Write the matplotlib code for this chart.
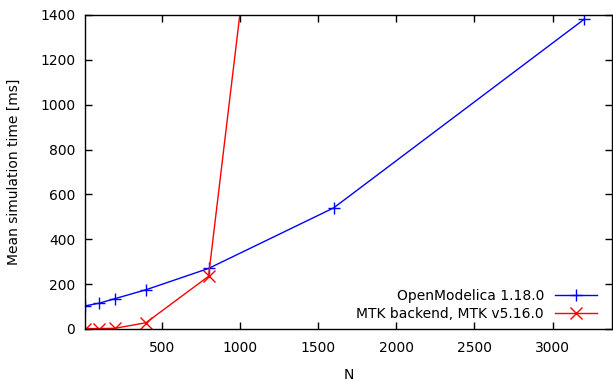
import matplotlib
matplotlib.use("Agg")
import matplotlib.pyplot as plt

N = [10, 100, 200, 400, 800, 1600, 3200]
openmodelica = [103, 115, 135, 175, 270, 540, 1380]
mtk = [2, 2, 3, 28, 235, 4900, None]

plt.rcParams['font.family'] = ['DejaVu Sans']
fig = plt.figure(figsize=(6.13, 3.81), dpi=100)
ax = fig.add_axes([85/613, 1-329/381, (612-85)/613, (329-15)/381])

ax.plot(N, openmodelica, color='#0000ff', marker='+', markersize=9, linewidth=1,
        markeredgewidth=1, label='OpenModelica 1.18.0')
Nm = [n for n, v in zip(N, mtk) if v is not None]
vm = [v for v in mtk if v is not None]
ax.plot(Nm, vm, color='#ff0000', marker='x', markersize=9, linewidth=1,
        markeredgewidth=1, label='MTK backend, MTK v5.16.0')

ax.set_xlim(10, 3380)
ax.set_ylim(0, 1400)
ax.set_xticks([500, 1000, 1500, 2000, 2500, 3000])
ax.set_yticks(range(0, 1401, 200))
ax.tick_params(direction='in', top=True, right=True, labelsize=10, length=5, width=1)
ax.tick_params(axis='y', pad=7)
ax.tick_params(axis='x', pad=9)
for s in ax.spines.values():
    s.set_linewidth(1.0)
ax.set_xlabel('N', fontsize=10, labelpad=9)
ax.set_ylabel('Mean simulation time [ms]', fontsize=10, labelpad=14)
ax.legend(loc='lower right', frameon=False, markerfirst=False, fontsize=10,
          handlelength=3.0, borderaxespad=0, borderpad=0, labelspacing=0.3,
          handletextpad=0.8, bbox_to_anchor=(0.971, 0.025))
fig.savefig('out.png', dpi=100)
